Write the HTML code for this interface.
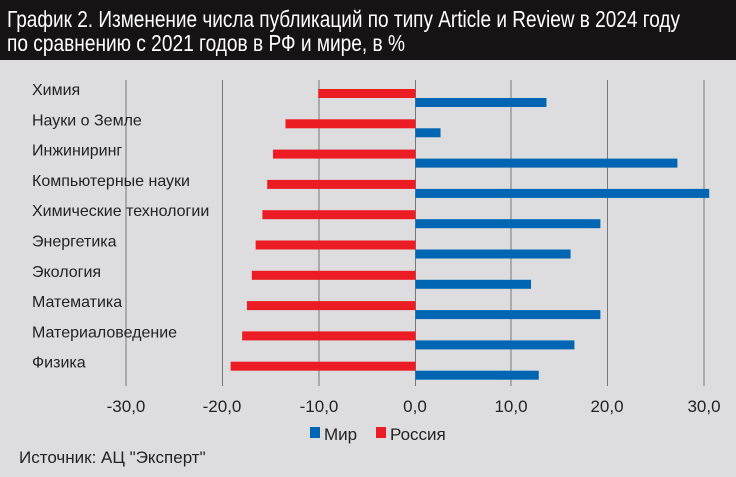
<!DOCTYPE html>
<html><head><meta charset="utf-8"><style>
body{margin:0;width:736px;height:477px;background:#dddddf;overflow:hidden;font-family:"Liberation Sans",sans-serif}
</style></head><body>
<svg width="736" height="477" style="position:absolute;left:0;top:0" font-family="Liberation Sans, sans-serif">
<rect x="0" y="0" width="736" height="60" fill="#151313"/>
<text x="7" y="27" font-size="23" fill="#fff" textLength="673" lengthAdjust="spacingAndGlyphs">График 2. Изменение числа публикаций по типу Article и Review в 2024 году</text>
<text x="7" y="51" font-size="23" fill="#fff" textLength="398" lengthAdjust="spacingAndGlyphs">по сравнению с 2021 годов в РФ и мире, в %</text>
<g stroke="#777" stroke-width="1">
<line x1="126" y1="80" x2="126" y2="386"/><line x1="222.5" y1="80" x2="222.5" y2="386"/><line x1="319" y1="80" x2="319" y2="386"/><line x1="415.5" y1="80" x2="415.5" y2="386"/><line x1="511" y1="80" x2="511" y2="386"/><line x1="607.5" y1="80" x2="607.5" y2="386"/><line x1="704" y1="80" x2="704" y2="386"/>
</g>
<g id="bars"></g>
<g font-size="16" fill="#222" id="labels"></g>
<g font-size="17" fill="#222" text-anchor="middle">
<text x="126" y="412">-30,0</text><text x="222" y="412">-20,0</text><text x="319" y="412">-10,0</text><text x="415" y="412">0,0</text><text x="511" y="412">10,0</text><text x="607" y="412">20,0</text><text x="704" y="412">30,0</text>
</g>
<rect x="310" y="427" width="10" height="11" fill="#0066b3"/><text x="324" y="440" font-size="17" fill="#222">Мир</text>
<rect x="376" y="427" width="10" height="11" fill="#ec1c24"/><text x="390" y="440" font-size="17" fill="#222">Россия</text>
<text x="19" y="463" font-size="17" fill="#222">Источник: АЦ "Эксперт"</text>
</svg>
<script>
var d=[["Химия",-10.1,13.6],["Науки о Земле",-13.5,2.6],["Инжиниринг",-14.8,27.2],["Компьютерные науки",-15.4,30.5],["Химические технологии",-15.9,19.2],["Энергетика",-16.6,16.1],["Экология",-17.0,12.0],["Математика",-17.5,19.2],["Материаловедение",-18.0,16.5],["Физика",-19.2,12.8]];
var s=9.63,z=415.5,b="",l="";
d.forEach(function(r,i){var y=89+30.3*i;
b+='<rect x="'+(z+r[1]*s)+'" y="'+y+'" width="'+(-r[1]*s)+'" height="9" fill="#ec1c24"/>';
b+='<rect x="'+z+'" y="'+(y+9)+'" width="'+(r[2]*s)+'" height="9" fill="#0066b3"/>';
l+='<text x="32" y="'+(y+6)+'">'+r[0]+'</text>';});
document.getElementById("bars").innerHTML=b;document.getElementById("labels").innerHTML=l;
</script>
</body></html>
